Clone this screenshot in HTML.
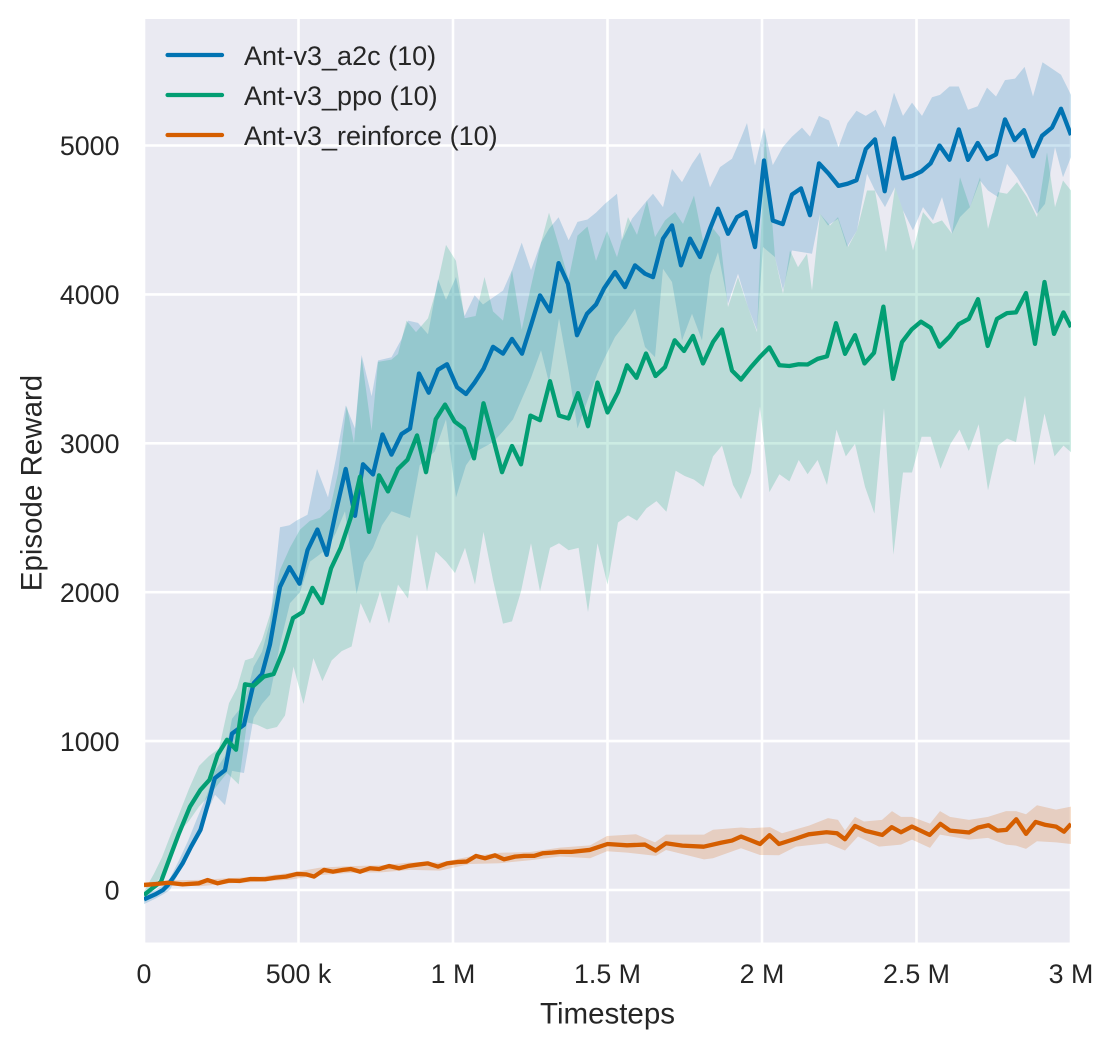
<!DOCTYPE html>
<html>
<head>
<meta charset="utf-8">
<style>
html,body{margin:0;padding:0;background:#fff;overflow:hidden;}
svg{display:block;}
text{font-family:"Liberation Sans",Arial,sans-serif;fill:#262626;}
</style>
</head>
<body>
<svg width="1114" height="1049" viewBox="0 0 1114 1049" xmlns="http://www.w3.org/2000/svg">
<rect width="1114" height="1049" fill="#ffffff"/>
<defs><clipPath id="c"><rect x="144" y="19" width="927" height="923.5"/></clipPath></defs>
<rect x="144" y="19" width="927" height="923.5" fill="#EAEAF2"/>
<g clip-path="url(#c)">
  <g stroke="#ffffff" stroke-width="2.6">
    <line x1="144" y1="19" x2="144" y2="943"/>
    <line x1="298.5" y1="19" x2="298.5" y2="943"/>
    <line x1="453" y1="19" x2="453" y2="943"/>
    <line x1="607.5" y1="19" x2="607.5" y2="943"/>
    <line x1="762" y1="19" x2="762" y2="943"/>
    <line x1="916.5" y1="19" x2="916.5" y2="943"/>
    <line x1="1071" y1="19" x2="1071" y2="943"/>
    <line x1="144" y1="890" x2="1071" y2="890"/>
    <line x1="144" y1="741.1" x2="1071" y2="741.1"/>
    <line x1="144" y1="592.2" x2="1071" y2="592.2"/>
    <line x1="144" y1="443.3" x2="1071" y2="443.3"/>
    <line x1="144" y1="294.4" x2="1071" y2="294.4"/>
    <line x1="144" y1="145.5" x2="1071" y2="145.5"/>
  </g>
  <g transform="matrix(1 0 0 -0.1489 0 890)">
    <!-- a2c band -->
    <path fill="#0173B2" fill-opacity="0.2" stroke="none" d="M144,-30 L155,0 163,30 170,80 179,200 188,330 197,480 207,640 215,800 225,900 232,1150 244,1250 253.6,1500 262,1600 270,1800 280,2436 289.5,2450 297,2483 307.5,2520 317,2828 328,2637 336,2900 345.7,3254 355,3100 361.6,3593 371.6,3316 378,3556 391.5,3578 401.5,3700 408,3824 418,3809 428,3732 438,4102 446,3963 456,4117 464.6,3855 474.6,3994 483,3932 493,3979 503,4025 512,4163 521.7,4348 531,4163 541,4348 549,4441 558.6,4518 568.6,4364 577.5,4487 587.5,4503 596,4549 605,4609 617,4676 622,4362 632,4508 647,4631 653,4676 663,4586 672,4843 682,4754 692,4877 700,4955 710,4720 720,4855 732,4911 740,5034 747,5151 755,4866 764,5120 772.8,4868 782.7,4988 792,5060 802,5120 810,5060 819,5199 829,5168 838.5,4988 847.5,5151 856.5,5233 865.8,5199 875.7,5240 884.7,5120 894,5355 903,5199 912,5288 922,5199 932,5324 940,5340 949.5,5396 958.8,5396 968,5240 977.7,5264 987,5389 996,5329 1005,5439 1015,5449 1024.6,5528 1033,5329 1042.5,5559 1052,5516 1061,5475 1071,5340 L1071,4922 1063,4787 1055,4989 1045,4608 1037,4541 1027,4676 1017,4787 1007,4877 998,4653 988,4698 980,4765 970,4586 960,4519 952,4407 942,4653 933,4497 923,4586 913,4430 903,4564 895,4720 885,4586 875,4698 867,4810 857,4430 847,4318 838,4508 828,4463 820,4541 812,4273 802,4284 792,4295 783,4027 775,4250 763,4318 757,3758 748,3915 738,4139 728,3937 718,4284 710,4128 702,3691 692,3870 682,3691 672,4083 663,4172 655,3579 645,3647 635,3904 625,3800 615,3714 605,3579 597.5,3470 589,3316 577.5,3100 569,3470 559,3840 549,3408 541,3624 531,3439 522,3300 513,3161 503,3080 493,3007 476,2945 466,2853 456,2637 446,3161 434.7,2945 419.7,2853 410,2498 401,2520 391.5,2544 382,2450 373,2298 364,2200 356.6,1989 345,2544 336,2400 328,2298 319,2250 310,2205 300,2000 290,1927 280,1650 270,1311 262,1250 253.6,1157 244,786 232,800 225,570 215,640 207,520 197,380 188,240 179,120 170,0 163,-30 155,-60 144,-95 Z"/>
    <!-- ppo band -->
    <path fill="#029E73" fill-opacity="0.2" stroke="none" d="M144,-10 L154,110 162,220 170,360 179,509 189,680 199,833 209,900 219,950 229,1255 237,1357 245,1542 253,1560 262,1680 270,1850 280,2150 290,2300 300,2420 310,2480 320,2500 330,2560 338,2800 346.7,3254 354,3000 361.6,3578 371.6,3084 378,3547 391.5,3562 398,3600 406.5,3824 416,3747 428,3840 436,4025 446,4333 456,4225 464.6,3840 475.6,3855 484.5,4117 493,3886 503,3824 512,4163 521.7,3763 531,4056 541,4348 549,4549 558.6,4333 568.6,4102 577.5,4395 587.5,4456 596,4225 607,4426 617,4250 628,4519 637,4400 647,4631 655,4385 665,4497 675,4553 683,4474 694,4664 703,4362 712,4452 720,4385 728,3915 738,4116 748,3915 757,3747 765,5100 775,4250 783,4004 790,4295 798,4183 807,4273 812,4027 820,4541 830,4463 838,4519 848,4318 857,4430 867,4698 875,4698 886,4284 895,4720 903,4564 913,4295 923,4553 933,4474 942,4497 952,4407 960,4787 970,4586 980,4787 988,4441 998,4687 1007,4676 1017,4754 1027,4653 1037,4519 1047,4955 1055,4586 1063,4765 1071,4698 L1071,2940 1063.5,2984 1054.5,2912 1044.5,3200 1034.5,2852 1025,3320 1016,3008 1007,3032 998,2984 988,2684 978.7,3128 968.8,2948 959.5,3092 950.5,2996 940.5,2828 930.6,3044 921.6,3044 912,2804 903,2804 893.4,2252 884,3236 874.4,2528 865,2708 855,2996 845.8,2912 836.5,3092 827,2720 817.6,2888 807.6,2792 798.7,2888 789.4,2744 779.4,2792 769.4,2672 760,3248 751,2804 741,2624 733,2720 722,2984 713,2912 703.6,2708 694,2756 684.7,2780 675.7,2816 666.4,2540 656.5,2612 646.5,2564 637,2480 628,2516 618,2468 607.5,2051 597.5,2329 588,1866 578.6,2298 568.6,2282 559,2329 550,2298 540,2005 531,2329 521,2005 512,1804 503,1789 493,2082 483.5,2405 475,2051 465,2298 455,2128 446,2205 435.7,2273 427,2005 417,2390 408,1958 398,2051 389,1789 380,2005 370,1789 360.6,1927 351.6,1635 341.7,1604 331.7,1542 322.4,1403 313.4,1557 303.5,1249 293.5,1500 285,1172 277,1095 267,1079 257,1110 247,1126 238.7,709 227,786 217,700 209,632 199,560 189,463 179,386 170,200 162,100 154,30 144,-60 Z"/>
    <!-- reinforce band -->
    <path fill="#D55E00" fill-opacity="0.2" stroke="none" d="M144,50 L170,65 200,68 230,80 260,90 290,115 320,150 350,160 380,165 410,185 440,185 470,225 500,250 530,255 560,285 590,300 607,363 636,374 655,320 666,372 704,372 713,405 741,420 750,415 770,422 782,381 809,432 828,483 838,471 845,400 855,491 864,460 882,471 892,530 901,491 912,491 930,446 940,530 950,491 969,471 988,491 1006,530 1016,530 1026,509 1037,569 1056,540 1071,560 L1071,309 1056,320 1037,327 1026,276 1016,298 1006,305 988,350 969,338 940,372 930,283 912,338 901,305 879,291 858,359 845,265 827,314 796,291 779,233 760,235 741,280 713,213 704,206 666,269 656,229 627,251 607,260 590,213 560,225 530,200 500,180 470,175 440,130 410,135 380,118 350,115 320,100 290,70 260,55 230,45 200,25 170,32 144,18 Z"/>

    <!-- a2c line -->
    <polyline fill="none" stroke="#0173B2" stroke-width="4.3" stroke-linejoin="round" vector-effect="non-scaling-stroke" points="144,-63 155,-30 163,0 168,34 175,100 182.6,179 191,290 200.5,404 208,580 214.8,751 225,805 232,1050 244,1110 253.6,1388 262,1450 270,1650 280,2035 289.5,2168 299.5,2057 307.5,2282 317.4,2421 326.7,2251 336,2544 345.7,2828 355,2513 363,2859 373,2791 382.5,3059 391.5,2924 401.5,3062 410,3099 419,3469 428.7,3340 438,3494 447,3531 457,3377 466,3331 474.6,3408 483.5,3500 493,3648 503,3602 512,3701 522,3602 531,3793 540,3993 550,3886 558.6,4210 568,4071 577,3726 587,3870 596,3932 604,4040 615,4150 625,4049 635,4195 645,4139 653,4116 663,4374 672,4463 681,4195 690,4374 700,4251 710,4441 718,4575 728,4407 737,4519 746,4553 755,4318 764,4899 772.8,4496 782.7,4472 792,4671 801,4712 810,4532 819,4880 829,4808 838.5,4729 847.5,4743 856.5,4767 865.8,4976 875,5041 884.7,4693 894,5048 903,4779 912,4796 921.6,4827 930.6,4880 939.5,5000 949.5,4904 958.8,5108 968,4904 977.7,5017 987,4909 996,4940 1005,5175 1014.6,5036 1024,5103 1033,4928 1042,5065 1052,5120 1061,5247 1071,5070"/>
    <!-- ppo line -->
    <polyline fill="none" stroke="#029E73" stroke-width="4.3" stroke-linejoin="round" vector-effect="non-scaling-stroke" points="144,-34 152,10 161,56 170,220 179,381 190,560 200.5,673 209.5,740 217.6,908 227,1009 236,942 245,1382 253.6,1372 264,1434 273.6,1450 283,1604 293,1826 302.5,1866 312.4,2029 322,1927 331,2159 340.7,2298 350.6,2498 360,2776 369,2405 379,2785 388,2677 398,2828 407.5,2890 417,3053 426,2806 435.7,3161 445,3260 454.6,3146 464,3099 474,2899 483.5,3269 493,3038 502,2806 512,2982 521,2859 530.4,3186 540,3155 550,3417 559,3186 568.6,3167 578,3337 588,3115 597.5,3408 607.5,3207 618,3344 627,3524 636.5,3440 646,3603 655.5,3452 665,3512 674.7,3692 684,3620 693,3721 703,3536 713,3680 722,3764 732,3488 741,3428 751,3512 760.5,3584 769.4,3644 779.4,3524 789.4,3519 798.7,3531 807.6,3529 817.6,3567 827,3584 836,3807 845,3601 855,3726 864.5,3536 874,3608 883.4,3918 893,3433 902,3680 911.6,3764 921,3817 930.6,3776 939.5,3649 949.5,3716 958.8,3800 968.8,3836 978,3968 987.7,3654 997,3836 1007,3874 1016,3879 1026,4009 1035,3668 1044.5,4083 1054,3735 1063.5,3879 1071,3780"/>
    <!-- reinforce line -->
    <polyline fill="none" stroke="#D55E00" stroke-width="4.3" stroke-linejoin="round" vector-effect="non-scaling-stroke" points="144,34 156,40 168,49 182.6,38 198.7,45 207.6,67 217.6,45 229,63 240,61 250.6,74 265,72 275.6,83 286,90 297,108 306,105 314,90 324,135 333,123 343,135 351,141 360,123 370,146 379,141 389,161 399,146 408,161 417,170 427.6,179 438,157 447,179 457.8,188 466.7,191 476,229 485,213 495,233 504,206 515,224 524,229 534,229 543,247 552,251 560,256 571.5,256 589.7,269 607.5,309 627,300 645,305 655.6,265 666,314 682.3,298 703.7,291 721.5,318 732,332 741,359 750,336 760,309 769.5,368 779,309 796,345 808.7,374 826.5,388 837,381 845,341 855,430 865.7,397 882.4,370 891.7,422 901,388 911.9,426 929.7,370 940.4,444 950,399 969,386 978,419 988.5,435 997.4,399 1006.4,404 1016.3,475 1026,377 1035.6,457 1045.5,437 1056,426 1064,392 1071,444"/>
  </g>
</g>

<!-- Legend -->
<g stroke-width="4.3" stroke-linecap="round">
  <line x1="167.6" y1="55" x2="222" y2="55" stroke="#0173B2"/>
  <line x1="167.6" y1="95" x2="222" y2="95" stroke="#029E73"/>
  <line x1="167.6" y1="135" x2="222" y2="135" stroke="#D55E00"/>
</g>
<g font-size="27">
  <text x="244" y="65">Ant-v3_a2c (10)</text>
  <text x="244" y="105">Ant-v3_ppo (10)</text>
  <text x="244" y="145">Ant-v3_reinforce (10)</text>
</g>

<!-- Y tick labels -->
<g font-size="26.8" text-anchor="end">
  <text x="119.5" y="899.7">0</text>
  <text x="119.5" y="750.8">1000</text>
  <text x="119.5" y="601.9">2000</text>
  <text x="119.5" y="453">3000</text>
  <text x="119.5" y="304.1">4000</text>
  <text x="119.5" y="155.2">5000</text>
</g>
<!-- X tick labels -->
<g font-size="26.8" text-anchor="middle">
  <text x="144" y="983">0</text>
  <text x="298.5" y="983">500 k</text>
  <text x="453" y="983">1 M</text>
  <text x="607.5" y="983">1.5 M</text>
  <text x="762" y="983">2 M</text>
  <text x="916.5" y="983">2.5 M</text>
  <text x="1071" y="983">3 M</text>
</g>
<!-- Axis labels -->
<text x="607.5" y="1023.3" font-size="29.5" text-anchor="middle">Timesteps</text>
<text transform="translate(41.5,483) rotate(-90)" font-size="29.5" text-anchor="middle">Episode Reward</text>
</svg>
</body>
</html>
